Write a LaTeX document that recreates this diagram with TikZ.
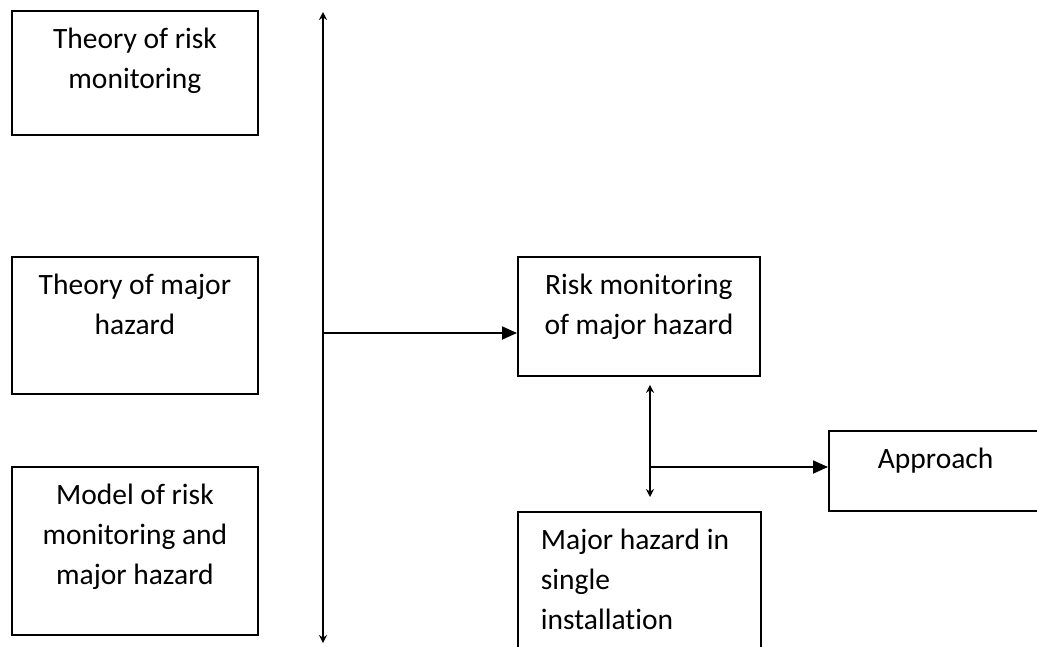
\documentclass[tikz,border=0pt]{standalone}
\usepackage{fontspec}
\setmainfont{Carlito}[Ligatures={NoCommon,NoRare}]
\usetikzlibrary{arrows.meta}

% Box with top-aligned text: #1 width, #2 height, #3 alignment, #4 text
\newcommand{\boxbody}[4]{\parbox[c][#2][t]{#1}{#3\fontsize{29.5}{40}\selectfont\rule{0pt}{38pt}#4}}

\tikzset{
  panel/.style={draw, line width=1.8pt, inner sep=0pt, anchor=north west},
  link/.style={line width=1.8pt},
  bothways/.style={link, {Stealth[length=8pt,width=8pt]}-{Stealth[length=8pt,width=8pt]}},
  feed/.style={link, -{Triangle[length=15pt,width=13pt]}}
}

\begin{document}
\begin{tikzpicture}[x=1pt, y=-1pt]
  \clip (0,0) rectangle (1037,646);
  \fill[white] (0,0) rectangle (1037,646);

  % inputs on the left
  \node[panel] (trm) at (11,10)
    {\boxbody{246pt}{124pt}{\centering}{Theory of risk\\monitoring}};
  \node[panel] (tmh) at (11,256)
    {\boxbody{246pt}{137pt}{\centering}{Theory of major\\hazard}};
  \node[panel] (mod) at (11,466)
    {\boxbody{246pt}{168pt}{\centering}{Model of risk\\monitoring and\\major hazard}};

  % central boxes
  \node[panel] (rm) at (517,256)
    {\boxbody{242pt}{119pt}{\centering}{Risk monitoring\\of major hazard}};
  \node[panel] (mh) at (517,511)
    {\boxbody{243pt}{180pt}{\raggedright\leftskip=23pt}{Major hazard in\\single\\installation}};
  \node[panel] (ap) at (828,430)
    {\boxbody{230pt}{80pt}{\raggedright\leftskip=49pt}{Approach}};

  % collecting line
  \coordinate (top) at (323,12);
  \coordinate (bot) at (323,643);
  \coordinate (j1) at (323,333);
  \coordinate (j2) at (650,467);

  \draw[bothways] (top) -- (bot);
  \draw[feed] (j1) -- (j1 -| rm.west);
  \draw[bothways, shorten <=8pt, shorten >=14pt] (j2 |- rm.south) -- (j2 |- mh.north);
  \draw[feed] (j2) -- (j2 -| ap.west);
\end{tikzpicture}
\end{document}
